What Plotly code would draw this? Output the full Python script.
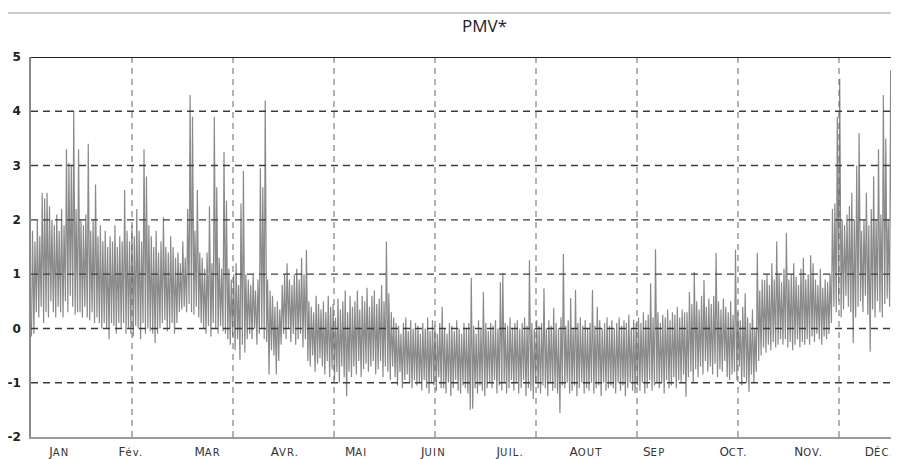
import plotly.graph_objects as go

# Daily PMV* extremes (one value pair per day)
daily_high = [
    1.8, 1.6, 2.0, 1.7, 2.5, 2.4, 2.5, 2.25, 2.0, 1.9,
    2.1, 1.8, 2.2, 1.9, 3.3, 3.05, 3.0, 4.0, 2.2, 3.3,
    2.0, 1.9, 2.1, 3.4, 1.8, 2.0, 2.65, 1.7, 1.9, 1.6,
    1.8, 1.5, 1.7, 1.6, 1.9, 1.5, 1.7, 1.6, 2.55, 1.8,
    1.6, 1.9, 1.7, 2.2, 1.8, 1.6, 3.3, 2.8, 1.9, 1.7,
    1.5, 1.8, 1.4, 1.6, 2.05, 1.5, 1.4, 1.7, 1.5, 1.3,
    1.4, 1.2, 1.6, 1.3, 2.2, 4.3, 3.9, 1.8, 2.55, 1.4,
    1.3, 1.1, 1.4, 2.25, 1.2, 3.9, 2.6, 1.3, 1.1, 3.25,
    2.35, 1.1, 0.9, 1.0, 1.2, 0.8, 2.3, 2.9, 1.0, 0.9,
    0.8, 1.0, 0.7, 0.9, 2.95, 2.6, 4.2, 0.9, 0.7, 0.6,
    0.4, 0.5, 0.35, 0.8, 1.0, 1.2, 0.9, 0.8, 1.0, 1.1,
    0.9, 1.3, 1.0, 1.45, 0.5, 0.4, 0.3, 0.6, 0.45, 0.35,
    0.5, 0.3, 0.6, 0.4, 0.45, 0.2, 0.55, 0.35, 0.5, 0.7,
    0.3, 0.6, 0.4, 0.5, 0.7, 0.35, 0.6, 0.5, 0.75, 0.4,
    0.6, 0.7, 0.45, 0.55, 0.8, 0.5, 1.6, 0.65, 0.3, 0.2,
    0.1, 0.05, -0.1, 0.1, 0.2, -0.05, 0.15, 0.0, 0.1, 0.05,
    -0.1, 0.1, 0.0, 0.2, -0.05, 0.15, 0.05, -0.1, 0.1, 0.4,
    0.0, -0.1, 0.1, 0.05, -0.05, 0.15, 0.0, -0.1, 0.1, 0.0,
    0.1, 0.93, 0.05, -0.1, 0.15, 0.0, 0.67, 0.1, -0.05, 0.1,
    0.05, 0.15, 0.0, 0.85, 1.02, 0.1, 0.05, 0.2, 0.0, 0.1,
    0.15, 0.0, 0.1, 0.2, 0.05, 1.26, 0.1, 0.0, 0.15, 0.05,
    0.1, 0.74, 0.0, 0.15, 0.05, 0.38, 0.1, 0.0, 0.2, 1.37,
    0.05, 0.15, 0.56, 0.0, 0.71, 0.1, 0.2, 0.05, 0.15, 0.0,
    0.1, 0.71, 0.05, 0.4, 0.15, 0.0, 0.1, 0.2, 0.05, 0.15,
    0.0, 0.1, 0.2, 0.05, 0.15, 0.1, 0.25, 0.0, 0.16, 0.1,
    0.2, 0.1, 0.3, 0.15, 0.25, 0.83, 0.2, 1.46, 0.3, 0.1,
    0.25, 0.2, 0.35, 0.15, 0.3, 0.25, 0.4, 0.2, 0.35, 0.3,
    0.3, 0.67, 0.45, 1.04, 0.5, 0.35, 0.6, 0.89, 0.4, 0.55,
    0.45, 0.6, 1.39, 0.5, 0.35, 0.55, 0.4, 0.3, 0.5, 0.25,
    1.45, 0.3, 0.15, 0.4, 0.65, 0.2, 0.1, 0.35, 0.0, 1.39,
    0.7, 0.9, 0.89, 1.0, 0.8, 1.2, 0.9, 1.6, 1.0, 0.85,
    1.1, 1.76, 0.9, 1.0, 1.2, 0.95, 0.8, 1.1, 1.3, 0.9,
    1.0, 1.35, 1.2, 0.9, 0.8, 1.1, 0.75, 0.9, 0.85, 1.0,
    2.2, 2.3, 3.9, 4.6, 2.0, 1.9, 2.1, 2.25, 2.5, 2.0,
    3.0, 3.6, 1.8, 2.0, 2.5, 1.9, 2.2, 2.8, 2.0, 3.3,
    2.1, 4.3, 3.5, 2.0, 4.75, 2.2, 1.9, 3.0,
]

daily_low = [
    -0.15, -0.1, 0.3, 0.2, 0.4, 0.1, 0.3, 0.2, 0.5, 0.3,
    0.2, 0.4, 0.3, 0.2, 0.5, 0.3, 0.6, 0.4, 0.25, 0.3,
    0.3, 0.2, 0.4, 0.2, 0.15, 0.3, 0.1, 0.2, 0.1, 0.0,
    0.1, 0.0, -0.2, 0.1, 0.05, -0.1, 0.1, 0.0, 0.1, -0.1,
    0.0, -0.1, -0.15, 0.05, 0.0, -0.2, 0.1, -0.1, 0.0, -0.05,
    -0.1, -0.27, -0.1, 0.0, 0.1, 0.15, -0.05, 0.0, 0.1, -0.1,
    0.1, 0.3, 0.35, 0.4, 0.3, 0.45, 0.3, 0.25, 0.4, 0.2,
    0.1, 0.0, -0.1, 0.05, -0.15, 0.1, 0.0, -0.1, 0.05, -0.05,
    -0.1, -0.2, -0.3, -0.15, -0.4, -0.2, -0.58, -0.3, -0.45, -0.2,
    -0.1, -0.2, 0.0, -0.3, -0.1, 0.0, -0.2, -0.25, -0.85, -0.4,
    -0.5, -0.85, -0.6, -0.3, -0.1, -0.2, 0.0, -0.25, -0.1, -0.3,
    -0.2, -0.1, -0.35, -0.2, -0.6, -0.7, -0.5, -0.8, -0.65, -0.55,
    -0.7, -0.85, -0.6, -0.9, -0.75, -0.95, -0.8, -1.0, -0.7, -0.9,
    -1.25, -0.8, -0.9, -0.7, -0.85, -0.6, -0.9, -0.75, -0.65, -0.8,
    -0.7, -0.6, -0.85, -0.75, -0.6, -0.9, -0.7, -0.8, -0.95, -0.7,
    -0.9, -1.05, -0.8, -1.1, -0.95, -0.85, -1.0, -1.1, -0.95, -1.05,
    -1.0, -1.15, -0.95, -1.1, -1.2, -1.0, -1.05, -1.15, -0.9, -1.1,
    -1.1, -1.2, -1.0, -1.25, -1.1, -0.95, -1.15, -1.2, -1.05, -1.1,
    -1.2, -1.5, -1.48, -1.1, -1.2, -1.05, -1.15, -1.25, -1.1, -1.0,
    -1.1, -0.95, -1.2, -1.05, -1.15, -1.0, -1.2, -1.1, -0.95, -1.15,
    -1.0, -1.2, -1.1, -0.95, -1.25, -1.1, -1.15, -1.3, -1.0, -1.1,
    -1.2, -1.05, -1.1, -1.25, -1.0, -1.15, -1.1, -1.2, -1.56, -1.05,
    -1.1, -1.0, -1.2, -1.15, -1.05, -1.25, -1.1, -1.0, -1.2, -1.1,
    -1.15, -1.0, -1.2, -1.1, -1.05, -1.25, -1.0, -1.15, -1.1, -1.05,
    -1.1, -1.2, -1.0, -1.15, -1.05, -1.25, -1.1, -1.0, -1.15, -1.2,
    -1.05, -1.15, -1.0, -1.2, -1.1, -0.95, -1.15, -1.05, -1.0, -1.1,
    -1.0, -1.2, -0.95, -1.1, -1.05, -0.9, -1.1, -0.95, -1.0, -0.85,
    -1.26, -0.9, -0.8, -1.0, -0.75, -0.9, -0.7, -0.85, -0.6, -0.8,
    -0.7, -0.85, -0.65, -0.9, -0.75, -0.8, -0.6, -0.9, -0.95, -0.85,
    -0.8, -0.95, -0.7, -1.05, -0.9, -1.0, -1.17, -0.85, -1.0, -0.8,
    -0.6, -0.5, -0.35, -0.45, -0.3, -0.4, -0.25, -0.35, -0.3, -0.2,
    -0.3, -0.2, -0.35, -0.25, -0.4, -0.3, -0.2, -0.35, -0.25, -0.3,
    -0.2, -0.3, -0.15, -0.25, -0.1, -0.2, -0.3, -0.15, -0.2, -0.1,
    0.1, 0.4, 0.3, 0.5, 0.2, 0.35, 0.6, 0.4, 0.3, -0.27,
    0.2, 0.4, 0.5, 0.3, 0.6, 0.25, -0.43, 0.35, 0.2, 0.5,
    0.3, 0.2, 0.45, 0.55, 0.4, 0.3, 0.6, 0.5,
]

SC = "<span style='font-size:10px;letter-spacing:1.2px'>"
month_labels = [
    "J" + SC + "AN</span>",
    "F" + SC + "év.</span>",
    "M" + SC + "AR</span>",
    "A" + SC + "VR.</span>",
    "M" + SC + "AI</span>",
    "J" + SC + "UIN</span>",
    "J" + SC + "UIL.</span>",
    "A" + SC + "OUT</span>",
    "S" + SC + "EP</span>",
    "O" + SC + "CT.</span>",
    "N" + SC + "OV.</span>",
    "D" + SC + "ÉC.</span>",
]
month_tick_hours = [280, 990, 1750, 2515, 3220, 3985, 4745, 5495, 6170, 6955, 7700, 8400]
y_ticks = [5, 4, 3, 2, 1, 0, -1, -2]
y_grid = [4, 3, 2, 1, 0, -1]
x_grid_hours = [1000, 2000, 3000, 4000, 5000, 6000, 7000, 8000]
hours_shown = 8594

x_vals, y_vals = [], []
for d, (lo, hi) in enumerate(zip(daily_low, daily_high)):
    x_vals += [24 * d + 5, 24 * d + 15]
    y_vals += [lo, hi]

fig = go.Figure()
fig.add_trace(go.Scatter(
    x=x_vals, y=y_vals, mode="lines",
    line=dict(color="#8a8a8a", width=1.2),
    hoverinfo="skip", showlegend=False,
))

shapes = [
    dict(type="line", xref="paper", yref="paper", x0=-0.0265, x1=1.0,
         y0=1.1158, y1=1.1158, line=dict(color="#cccccc", width=2)),
]
# dashed grid drawn above the data, as in the reference
for g in y_grid:
    shapes.append(dict(type="line", xref="paper", yref="y", x0=0, x1=1, y0=g, y1=g,
                       layer="above", line=dict(color="#3c3c3c", width=1.4, dash="7px,5px")))
for g in x_grid_hours:
    shapes.append(dict(type="line", xref="x", yref="paper", x0=g, x1=g, y0=0, y1=1,
                       layer="above", line=dict(color="#666666", width=1, dash="6px,5px")))
shapes.append(dict(type="line", xref="paper", yref="y", x0=0, x1=1, y0=5, y1=5,
                   layer="above", line=dict(color="#222", width=2)))

# the page body adds an 8px offset, so the figure is 891x451
fig.update_layout(
    width=891, height=451,
    margin=dict(l=23, r=0, t=49, b=22, autoexpand=False),
    paper_bgcolor="white", plot_bgcolor="white",
    showlegend=False,
    xaxis=dict(
        range=[0, hours_shown], automargin=False,
        tickmode="array", tickvals=month_tick_hours, ticktext=month_labels,
        showgrid=False, zeroline=False, ticks="", ticklabelstandoff=3,
        showline=True, linecolor="#9a9a9a", linewidth=1.5,
        tickfont=dict(family="DejaVu Sans, Verdana, sans-serif", size=12, color="#333"),
    ),
    yaxis=dict(
        range=[-2, 5], automargin=False, tickmode="array", tickvals=y_ticks,
        ticktext=[str(v) for v in y_ticks],
        showgrid=False, zeroline=False, ticks="", ticklabelstandoff=6,
        showline=True, linecolor="#8a8a8a", linewidth=1.5,
        tickfont=dict(family="DejaVu Sans, Verdana, sans-serif", size=12, color="#222", weight="bold"),
    ),
    shapes=shapes,
    annotations=[
        dict(text="PMV*", xref="paper", yref="paper", x=0.522, y=1.084,
             showarrow=False, xanchor="center", yanchor="middle",
             font=dict(family="Open Sans, Noto Sans, sans-serif", size=17, color="#222")),
    ],
)

fig.write_html("out.html")
